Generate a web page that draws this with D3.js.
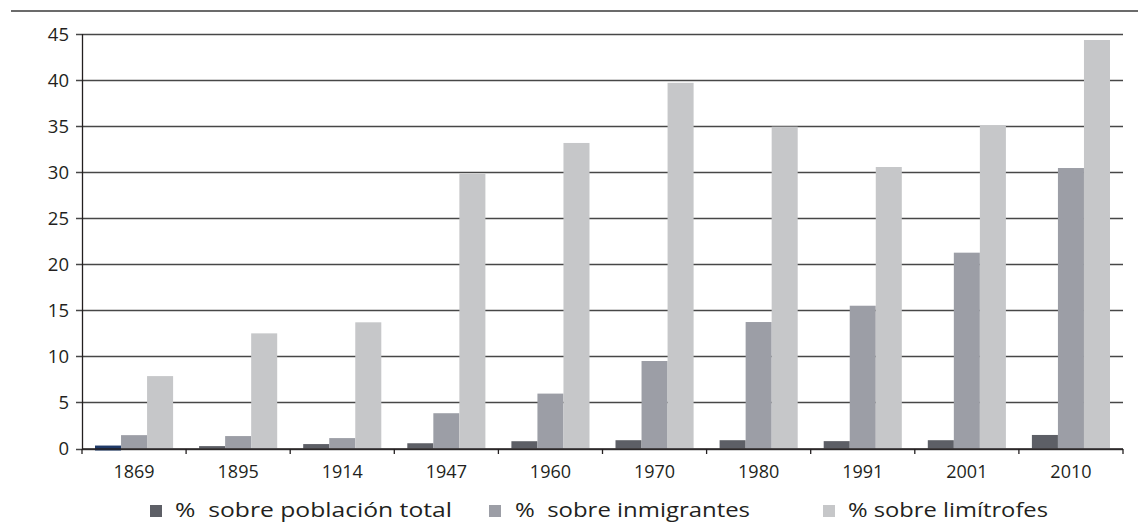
<!DOCTYPE html>
<html><head><meta charset="utf-8">
<script src="https://cdn.jsdelivr.net/npm/d3@7"></script>
<style>
body{margin:0;background:#fff;}
svg text{font-family:"Open Sans",sans-serif;fill:#231f20;white-space:pre;}
</style></head>
<body><svg id="c" width="1138" height="523"></svg>
<script>
const years = ['1869','1895','1914','1947','1960','1970','1980','1991','2001','2010'];
const sobreTotal = [0.32,0.26,0.48,0.57,0.79,0.9,0.9,0.8,0.9,1.47];
const sobreInmigrantes = [1.45,1.35,1.13,3.83,5.96,9.5,13.73,15.5,21.26,30.45];
const sobreLimitrofes = [7.86,12.5,13.7,29.8,33.17,39.7,34.94,30.56,35.1,44.35];
const seriesNames = ['%  sobre población total','%  sobre inmigrantes','% sobre limítrofes'];
const yTicks = [0,5,10,15,20,25,30,35,40,45];

const seriesVals = [sobreTotal, sobreInmigrantes, sobreLimitrofes];
const colors = ['#5d5f66','#9c9ea6','#c6c7c9'];
const svg = d3.select('#c');

const x = d3.scaleBand().domain(years).range([82,1123]).padding(0);
const bw = x.bandwidth();
const x1 = d3.scaleBand().domain([0,1,2]).range([13,bw-13]).padding(0);
const y = d3.scaleLinear().domain([0,45]).range([448.5,34]);

// top rule
svg.append('line').attr('x1',11).attr('x2',1138).attr('y1',11).attr('y2',11)
  .attr('stroke','#3a3a3a').attr('stroke-width',1.3);

// gridlines
svg.append('g').selectAll('line').data(yTicks).join('line')
  .attr('x1',76).attr('x2',1123)
  .attr('y1',d=>Math.round(y(d))+0.5).attr('y2',d=>Math.round(y(d))+0.5)
  .attr('stroke','#474747').attr('stroke-width',1.3);

// y labels
svg.append('g').selectAll('text').data(yTicks).join('text')
  .attr('x',69).attr('y',d=>y(d)).attr('dy','0.36em')
  .attr('text-anchor','end').style('font-size','18.5px').text(d=>d);

// bars
years.forEach((yr,i)=>{
  seriesVals.forEach((arr,s)=>{
    const v = arr[i];
    let fill = colors[s];
    if(s===0 && i===0) fill = '#1f3a68';
    svg.append('rect')
      .attr('x', x(yr)+x1(s)).attr('width', x1.bandwidth())
      .attr('y', y(v)).attr('height', y(0)-y(v) + (s===0&&i===0?2:0))
      .attr('fill', fill);
  });
});

// y axis line
svg.append('line').attr('x1',82.5).attr('x2',82.5).attr('y1',34).attr('y2',449)
  .attr('stroke','#231f20').attr('stroke-width',1.3);

// x axis
const xa = svg.append('g').attr('transform','translate(0,449)');
xa.append('line').attr('x1',82).attr('x2',1123).attr('stroke','#231f20').attr('stroke-width',1.3);
const tickPos = years.map(d=>x(d)).concat([x.range()[1]]);
xa.selectAll('line.t').data(tickPos).join('line').attr('class','t')
  .attr('x1',d=>d).attr('x2',d=>d).attr('y1',0).attr('y2',5)
  .attr('stroke','#231f20').attr('stroke-width',1.3);
xa.selectAll('text').data(years).join('text')
  .attr('x',d=>x(d)+bw/2).attr('y',28.5).attr('text-anchor','middle')
  .style('font-size','18px').text(d=>d);

// legend
const legX = [[150,175,277],[489,515,235],[823,848,200]];
const lg = svg.append('g');
seriesNames.forEach((n,s)=>{
  lg.append('rect').attr('x',legX[s][0]).attr('y',505).attr('width',12).attr('height',12).attr('fill',colors[s]);
  lg.append('text').attr('x',legX[s][1]).attr('y',517).style('font-size','20.5px')
    .attr('textLength',legX[s][2]).attr('lengthAdjust','spacingAndGlyphs').text(n);
});
</script></body></html>
